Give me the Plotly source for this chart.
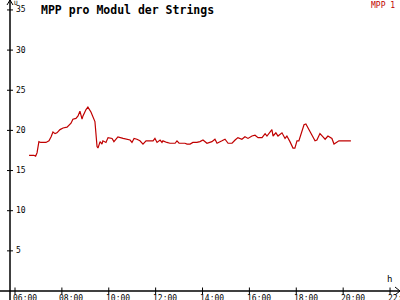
import plotly.graph_objects as go

# ---- data ----
times = [6.60, 6.80, 6.88, 6.94, 7.02, 7.10, 7.32, 7.45, 7.54, 7.62, 7.71, 7.79, 7.92, 8.05,
         8.22, 8.30, 8.39, 8.47, 8.60, 8.69, 8.77, 8.86, 8.90, 9.03, 9.11, 9.24, 9.33, 9.41,
         9.50, 9.54, 9.63, 9.71, 9.75, 9.88, 9.97, 10.14, 10.22, 10.39, 10.61, 10.82,
         10.91, 10.99, 11.08, 11.20, 11.33, 11.46, 11.59, 11.89, 11.97, 12.06, 12.19, 12.27,
         12.31, 12.48, 12.61, 12.83, 12.91, 13.00, 13.25, 13.34, 13.47, 13.59, 13.76, 13.89,
         14.02, 14.19, 14.40, 14.53, 14.62, 14.83, 14.96, 15.09, 15.26, 15.39, 15.51, 15.68,
         15.81, 15.94, 16.11, 16.24, 16.37, 16.54, 16.67, 16.75, 16.96, 17.01, 17.13, 17.22,
         17.39, 17.52, 17.60, 17.73, 17.86, 17.94, 18.03, 18.11, 18.24, 18.33, 18.41, 18.50,
         18.67, 18.80, 18.88, 19.01, 19.14, 19.23, 19.35, 19.52, 19.61, 19.74, 19.82, 20.33]
values = [16.9, 16.9, 16.8, 17.2, 18.6, 18.5, 18.5, 18.7, 19.2, 19.8, 19.6, 19.7, 20.1, 20.3,
          20.4, 20.7, 20.9, 21.4, 21.5, 21.8, 22.4, 21.4, 21.8, 22.6, 22.9, 22.3, 21.7, 21.1,
          18.0, 17.8, 18.6, 18.3, 18.7, 18.5, 19.1, 19.0, 18.6, 19.2, 19.0, 18.9,
          18.8, 18.5, 19.0, 18.9, 18.7, 18.3, 18.7, 18.7, 19.0, 18.5, 18.8, 18.5,
          18.7, 18.5, 18.4, 18.4, 18.7, 18.4, 18.4, 18.3, 18.3, 18.5, 18.5, 18.6,
          18.8, 18.4, 18.6, 18.9, 18.4, 18.7, 18.9, 18.4, 18.4, 18.8, 19.1, 18.9,
          19.2, 19.0, 19.3, 19.4, 19.1, 19.1, 19.6, 19.3, 20.1, 19.3, 19.7, 19.3,
          19.7, 19.0, 19.3, 18.6, 17.8, 17.8, 18.7, 18.7, 19.9, 20.7, 20.8, 20.3,
          19.4, 18.7, 18.8, 19.6, 19.2, 18.9, 19.3, 19.0, 18.3, 18.5, 18.7, 18.7]
x_ticks = [6, 8, 10, 12, 14, 16, 18, 20, 22]
x_labels = ["06:00", "08:00", "10:00", "12:00", "14:00", "16:00", "18:00", "20:00", "22:"]
y_ticks = [5, 10, 15, 20, 25, 30, 35]
series_name = "MPP 1"
title = "MPP pro Modul der Strings"

W, H = 400, 300
PXH = 23.44          # px per hour
PXV = 8.03           # px per unit
X0 = 6 - 15 / PXH    # hour at left edge
Y0 = -9 / PXV        # value at bottom edge
xr = [X0, X0 + W / PXH]
yr = [Y0, Y0 + H / PXV]

RED = "#c00000"
FONT = "DejaVu Sans Mono"

fig = go.Figure()
fig.add_trace(go.Scatter(x=times, y=values, mode="lines",
                         line=dict(color=RED, width=1.2), showlegend=False, hoverinfo="skip"))

shapes = []
ann = []
# axes lines
shapes.append(dict(type="line", xref="paper", yref="y", x0=0, x1=1, y0=0, y1=0,
                   line=dict(color="black", width=1.5)))
shapes.append(dict(type="line", xref="paper", yref="paper", x0=10 / W, x1=10 / W, y0=0, y1=1,
                   line=dict(color="black", width=1.5)))
# arrows
def px(x, y):
    return f"{x / W:.4f},{1 - y / H:.4f}"
shapes.append(dict(type="path", xref="paper", yref="paper",
                   path=f"M {px(7, 5)} L {px(10, 0)} L {px(13, 5)}",
                   line=dict(color="black", width=1)))
shapes.append(dict(type="path", xref="paper", yref="paper",
                   path=f"M {px(395, 287)} L {px(400, 291)} L {px(395, 295)}",
                   line=dict(color="black", width=1)))
# x ticks
for t, lab in zip(x_ticks, x_labels):
    shapes.append(dict(type="line", xref="x", yref="y", x0=t, x1=t,
                       y0=-3.5 / PXV, y1=3.5 / PXV, line=dict(color="black", width=1)))
    ann.append(dict(x=t - 4.5 / PXH, y=1 - 292 / H, xref="x", yref="paper", text=lab,
                    showarrow=False, xanchor="left", yanchor="top",
                    font=dict(family=FONT, size=8, color="black")))
# y ticks
for v in y_ticks:
    shapes.append(dict(type="line", xref="paper", yref="y", x0=7 / W, x1=13 / W,
                       y0=v, y1=v, line=dict(color="black", width=1)))
    ann.append(dict(x=14 / W, y=v, xref="paper", yref="y", text=str(v),
                    showarrow=False, xanchor="left", yanchor="middle",
                    font=dict(family=FONT, size=8, color="black")))
# axis unit labels
ann.append(dict(x=12 / W, y=1 + 3 / H, xref="paper", yref="paper", text="U", showarrow=False,
                xanchor="left", yanchor="top", font=dict(family=FONT, size=6, color="black")))
ann.append(dict(x=389 / W, y=1 - 286 / H, xref="paper", yref="paper", text="h", showarrow=False,
                xanchor="center", yanchor="bottom", font=dict(family=FONT, size=9, color="black")))
# title
ann.append(dict(x=39 / W, y=1 - 1 / H, xref="paper", yref="paper", text=f"<b>{title}</b>",
                showarrow=False, xanchor="left", yanchor="top",
                font=dict(family=FONT, size=11.5, color="black")))
# legend
ann.append(dict(x=397 / W, y=1 + 1 / H, xref="paper", yref="paper", text=series_name,
                showarrow=False, xanchor="right", yanchor="top",
                font=dict(family=FONT, size=8, color=RED)))

fig.update_layout(
    width=W, height=H, margin=dict(l=0, r=0, t=0, b=0),
    paper_bgcolor="white", plot_bgcolor="white",
    xaxis=dict(range=xr, visible=False, fixedrange=True),
    yaxis=dict(range=yr, visible=False, fixedrange=True),
    shapes=shapes, annotations=ann,
)
fig.write_html("out.html")
